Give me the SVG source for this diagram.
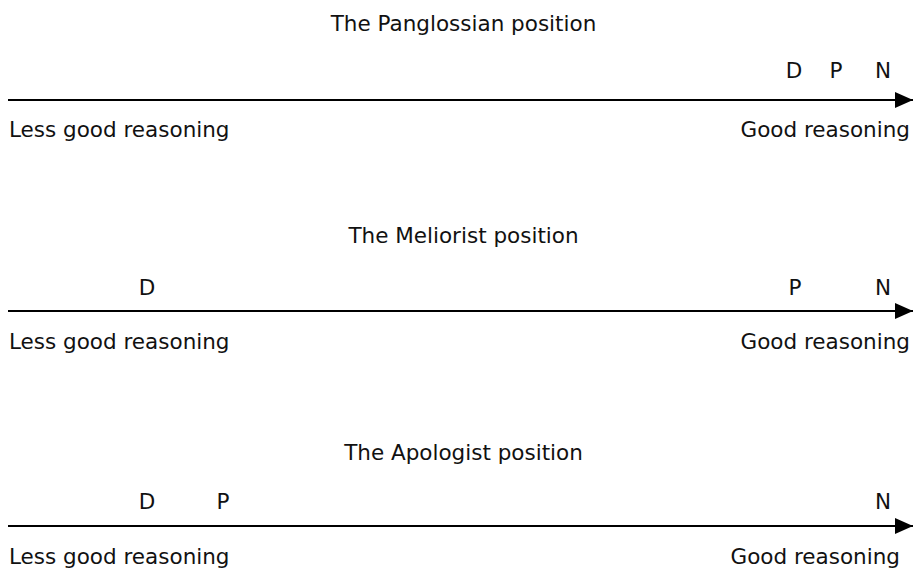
<svg xmlns="http://www.w3.org/2000/svg" width="914" height="572" viewBox="0 0 914 572">
  <style>
    text { font-family: "DejaVu Sans", "Liberation Sans", sans-serif; font-size: 21.5px; fill: #111; }
    .title { text-anchor: middle; }
    .mark { text-anchor: middle; }
    .end { text-anchor: end; }
    .axis { stroke: #000; stroke-width: 2.2; fill: none; }
  </style>
  <defs>
    <marker id="head" markerUnits="userSpaceOnUse" markerWidth="20" markerHeight="18" refX="18" refY="8" orient="auto">
      <path d="M0,0 L18,8 L0,16 Z" fill="#000"/>
    </marker>
  </defs>

  <!-- axes -->
  <g id="connectors">
    <line class="axis" x1="8" y1="100" x2="913" y2="100" marker-end="url(#head)"/>
    <line class="axis" x1="8" y1="311" x2="913" y2="311" marker-end="url(#head)"/>
    <line class="axis" x1="8" y1="526" x2="913" y2="526" marker-end="url(#head)"/>
  </g>

  <!-- Panglossian -->
  <g id="panglossian">
    <text class="title" x="463.5" y="31">The Panglossian position</text>
    <text class="mark" x="794" y="78">D</text>
    <text class="mark" x="836" y="78">P</text>
    <text class="mark" x="883" y="78">N</text>
    <text x="9" y="137">Less good reasoning</text>
    <text class="end" x="910" y="137">Good reasoning</text>
  </g>

  <!-- Meliorist -->
  <g id="meliorist">
    <text class="title" x="463.5" y="243">The Meliorist position</text>
    <text class="mark" x="147" y="295">D</text>
    <text class="mark" x="795" y="295">P</text>
    <text class="mark" x="883" y="295">N</text>
    <text x="9" y="349">Less good reasoning</text>
    <text class="end" x="910" y="349">Good reasoning</text>
  </g>

  <!-- Apologist -->
  <g id="apologist">
    <text class="title" x="463.5" y="460">The Apologist position</text>
    <text class="mark" x="147" y="509">D</text>
    <text class="mark" x="223" y="509">P</text>
    <text class="mark" x="883" y="509">N</text>
    <text x="9" y="564">Less good reasoning</text>
    <text class="end" x="900" y="564">Good reasoning</text>
  </g>
</svg>
